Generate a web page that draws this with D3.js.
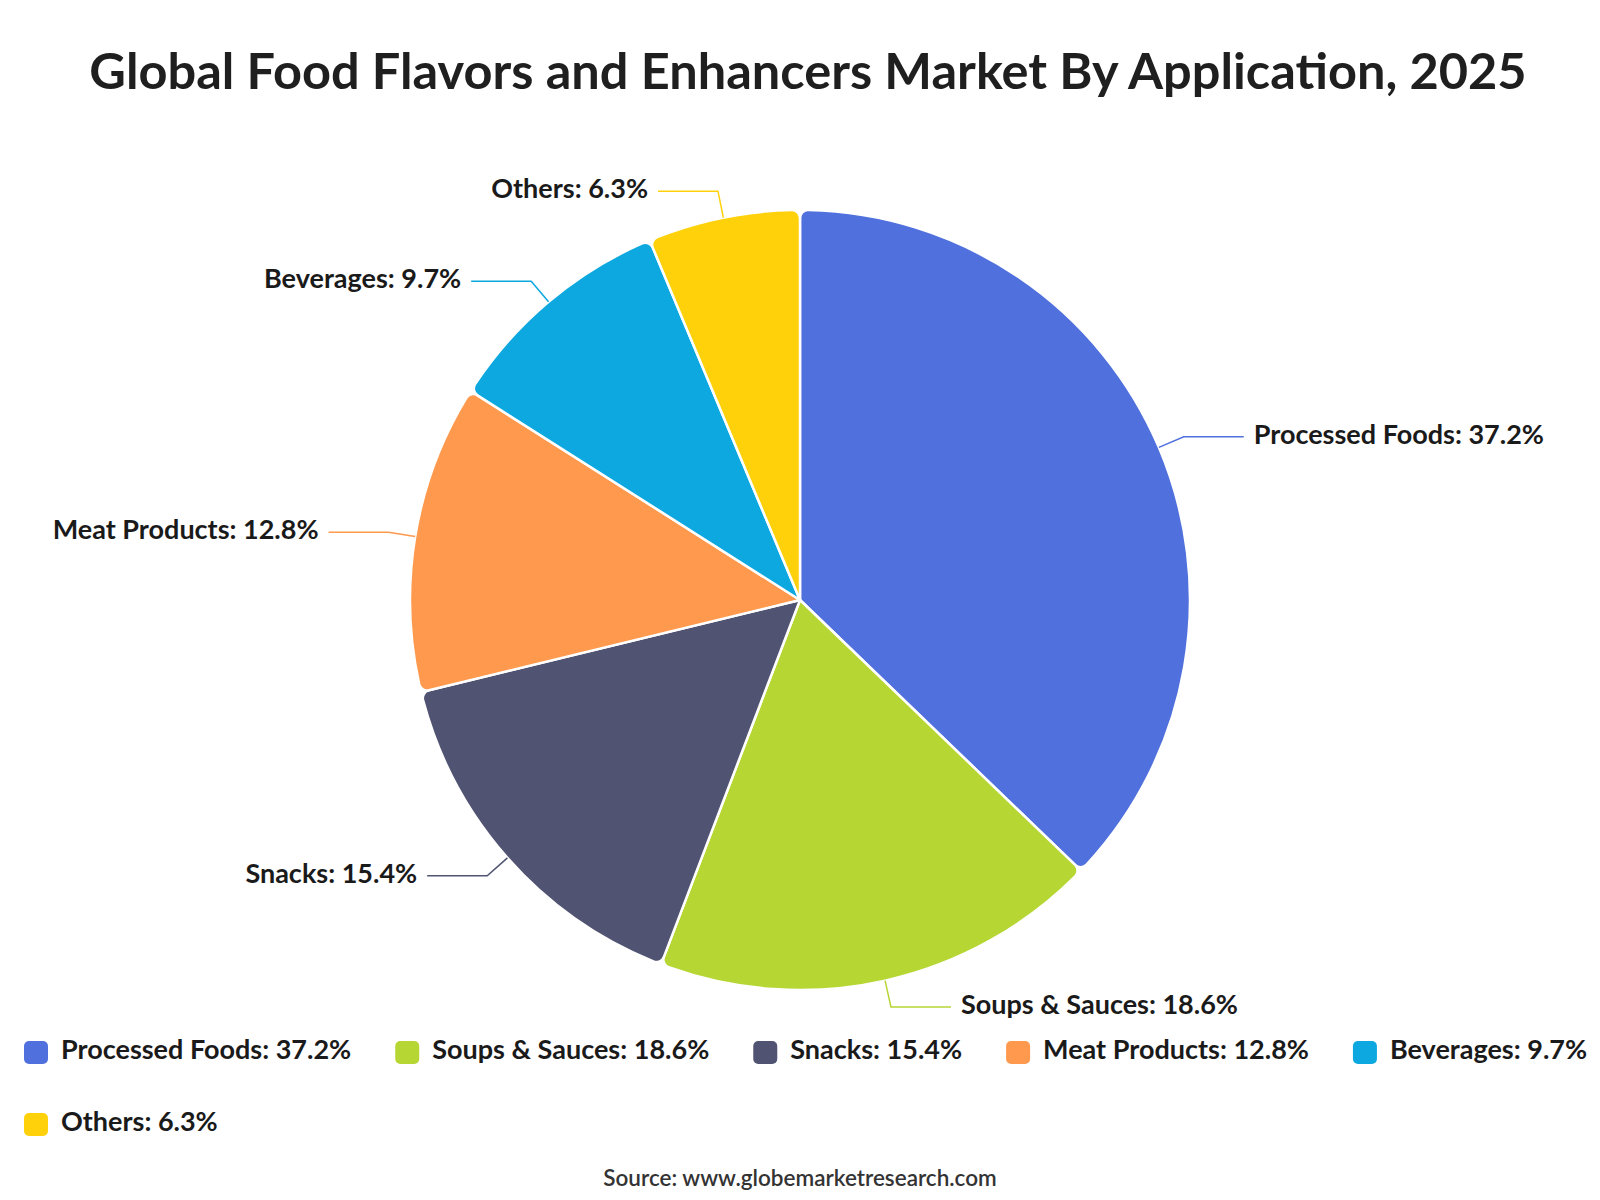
<!DOCTYPE html>
<html>
<head>
<meta charset="utf-8">
<script src="https://cdn.jsdelivr.net/npm/d3@7"></script>
<style>
  body { margin: 0; background: #fff; }
  text { font-family: Lato, "Open Sans", sans-serif; }
</style>
</head>
<body>
<div id="pie_chart"></div>
<script>
// chart data
var categories = ["Processed Foods", "Soups & Sauces", "Snacks", "Meat Products", "Beverages", "Others"];
var shares = [37.2, 18.6, 15.4, 12.8, 9.7, 6.3];
var colors = ["#5070dd", "#b6d634", "#505372", "#ff994d", "#0ca8df", "#ffd10a"];

var titleText = "Global Food Flavors and Enhancers Market By Application, 2025";
var sourceText = "Source: www.globemarketresearch.com";

var width = 1600, height = 1200;
var cx = 800, cy = 600, radius = 390;

var data = categories.map(function(c, i) {
    return {name: c, value: shares[i], color: colors[i]};
});

var svg = d3.select("#pie_chart")
  .append("svg")
    .attr("width", width)
    .attr("height", height);

svg.append("rect")
  .attr("width", width)
  .attr("height", height)
  .attr("fill", "#fff");

// title
svg.append("text")
  .attr("x", 808)
  .attr("y", 89)
  .attr("text-anchor", "middle")
  .style("font-size", "50.5px")
  .style("font-weight", "bold")
  .style("fill", "#1f1f1f")
  .text(titleText);

var pie = d3.pie()
  .sort(null)
  .value(function(d) { return d.value; });

var arc = d3.arc()
  .innerRadius(0)
  .outerRadius(radius)
  .cornerRadius(8);

var g = svg.append("g")
  .attr("transform", "translate(" + cx + "," + cy + ")");

var arcs = pie(data);

g.selectAll("path.slice")
  .data(arcs)
  .enter()
  .append("path")
    .attr("class", "slice")
    .attr("d", arc)
    .attr("fill", function(d) { return d.data.color; })
    .attr("stroke", "#fff")
    .attr("stroke-width", 2.5)
    .attr("stroke-linejoin", "round");

// label lines + labels
function polar(a, r) {
    return [r * Math.sin(a), -r * Math.cos(a)];
}

arcs.forEach(function(d) {
    var a = (d.startAngle + d.endAngle) / 2;
    var p0 = polar(a, radius);
    var p1 = polar(a, radius + 27);
    var right = p1[0] >= 0;
    var p2 = [p1[0] + (right ? 60 : -60), p1[1]];

    g.append("polyline")
      .attr("points", [p0, p1, p2].map(function(p) { return p.join(","); }).join(" "))
      .attr("fill", "none")
      .attr("stroke", d.data.color)
      .attr("stroke-width", 1.5);

    g.append("text")
      .attr("x", p2[0] + (right ? 10 : -10))
      .attr("y", p2[1])
      .attr("text-anchor", right ? "start" : "end")
      .attr("dominant-baseline", "middle")
      .style("font-size", "27px")
      .style("font-weight", "bold")
      .style("fill", "#1a1a1a")
      .text(d.data.name + ": " + d.data.value + "%");
});

// legend
var legend = svg.append("g");
var lx = 24, ly = 1052;
data.forEach(function(d) {
    var item = legend.append("g");
    item.append("rect")
      .attr("x", 0)
      .attr("y", -11)
      .attr("width", 24)
      .attr("height", 23)
      .attr("rx", 5)
      .attr("fill", d.color);
    var t = item.append("text")
      .attr("x", 37)
      .attr("y", 0)
      .attr("dominant-baseline", "middle")
      .style("font-size", "27px")
      .style("font-weight", "bold")
      .style("fill", "#1a1a1a")
      .text(d.name + ": " + d.value + "%");
    var w = 37 + t.node().getComputedTextLength();
    if (lx + w > 1600) {
        lx = 24;
        ly += 72;
    }
    item.attr("transform", "translate(" + lx + "," + ly + ")");
    lx += w + 44;
});

// source
svg.append("text")
  .attr("x", width / 2)
  .attr("y", 1180)
  .attr("text-anchor", "middle")
  .attr("dominant-baseline", "middle")
  .style("font-size", "22.5px")
  .style("font-weight", "600")
  .style("fill", "#333")
  .text(sourceText);
</script>
</body>
</html>
